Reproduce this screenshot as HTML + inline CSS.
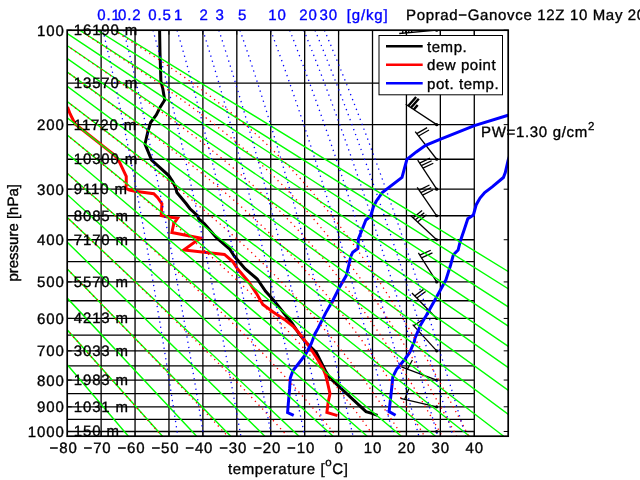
<!DOCTYPE html>
<html><head><meta charset="utf-8"><style>
html,body{margin:0;padding:0;background:#fff;width:640px;height:480px;overflow:hidden}
svg{display:block}
text{font-family:"Liberation Sans",Arial,Helvetica,sans-serif;stroke-width:0.35px;paint-order:stroke;text-rendering:geometricPrecision}
svg{will-change:transform}
</style></head><body>
<svg width="640" height="480" viewBox="0 0 640 480">
<rect width="640" height="480" fill="#fff"/>
<defs><clipPath id="c"><rect x="67.2" y="30.2" width="441" height="406"/></clipPath></defs>
<path d="M101.12 30.2V436.2M135.05 30.2V436.2M168.97 30.2V436.2M202.89 30.2V436.2M236.82 30.2V436.2M270.74 30.2V436.2M304.66 30.2V436.2M338.58 30.2V436.2M372.51 30.2V436.2M406.43 30.2V436.2M440.35 30.2V436.2M474.28 30.2V436.2M67.2 83.16H474.28M67.2 124.63H474.28M67.2 159.23H474.28M67.2 189.19H474.28M67.2 215.76H474.28M67.2 239.74H474.28M67.2 261.67H474.28M67.2 281.92H474.28M67.2 300.77H474.28M67.2 318.43H474.28M67.2 335.08H474.28M67.2 350.83H474.28M67.2 365.79H474.28M67.2 380.06H474.28M67.2 393.71H474.28M67.2 406.79H474.28M67.2 419.37H474.28M67.2 431.48H474.28" stroke="#000" stroke-width="1.3" fill="none"/>
<g clip-path="url(#c)"><g stroke="#000" fill="none"><path d="M436.7 30.2L399.2 33.5" stroke-width="1.3"/><path d="M402.69 33.19L403.28 21.71" stroke-width="1.3"/><path d="M405.67 32.93L406.27 21.45" stroke-width="1.3"/><path d="M408.66 32.67L409.26 21.18" stroke-width="1.3"/><path d="M411.65 32.4L412.25 20.92" stroke-width="1.3"/><path d="M436.7 124.63L405.7 104.33" stroke-width="1.3"/><path d="M408.21 105.97L416.12 96.95" stroke-width="2.4"/><path d="M410.89 107.73L418.79 98.7" stroke-width="2.4"/><path d="M413.73 109.59L417.68 105.08" stroke-width="2.4"/><path d="M436.7 159.23L415.2 131.63" stroke-width="1.3"/><path d="M416.74 133.6L427.14 127.62" stroke-width="1.3"/><path d="M418.58 135.97L428.98 129.98" stroke-width="1.3"/><path d="M436.7 189.19L417.7 160.19" stroke-width="1.3"/><path d="M419.62 163.11L430.02 158.21" stroke-width="1.3"/><path d="M421.26 165.62L431.66 160.72" stroke-width="1.3"/><path d="M422.91 168.13L433.31 163.23" stroke-width="1.3"/><path d="M436.7 215.76L417.2 187.26" stroke-width="1.3"/><path d="M419.18 190.15L429.48 185.04" stroke-width="1.3"/><path d="M420.87 192.62L431.17 187.51" stroke-width="1.3"/><path d="M422.56 195.1L432.87 189.99" stroke-width="1.3"/><path d="M436.7 239.74L410.6 215.44" stroke-width="1.3"/><path d="M413.16 217.83L422.09 210.58" stroke-width="1.3"/><path d="M415.36 219.87L424.29 212.63" stroke-width="1.3"/><path d="M417.55 221.91L426.48 214.67" stroke-width="1.3"/><path d="M436.7 281.92L418.4 252.92" stroke-width="1.3"/><path d="M419.84 255.2L430.78 250.27" stroke-width="1.3"/><path d="M421.5 257.82L432.44 252.9" stroke-width="1.3"/><path d="M436.7 318.43L411.9 293.03" stroke-width="1.3"/><path d="M414.69 295.9L423.56 289.38" stroke-width="1.3"/><path d="M416.79 298.04L425.65 291.53" stroke-width="1.3"/><path d="M436.7 350.83L412.7 324.63" stroke-width="1.3"/><path d="M413.71 325.73L421.96 320.07" stroke-width="1.3"/><path d="M436.7 380.06L401.4 366.96" stroke-width="1.3"/><path d="M407.4 369.19L412.39 359.95" stroke-width="1.3"/><path d="M436.7 406.79L400.4 398.39" stroke-width="1.3"/><path d="M404.69 399.38L408.78 388.74" stroke-width="1.3"/></g><circle cx="436.7" cy="30.2" r="1.6" fill="#000"/><circle cx="436.7" cy="124.63" r="1.6" fill="#000"/><circle cx="436.7" cy="159.23" r="1.6" fill="#000"/><circle cx="436.7" cy="189.19" r="1.6" fill="#000"/><circle cx="436.7" cy="215.76" r="1.6" fill="#000"/><circle cx="436.7" cy="239.74" r="1.6" fill="#000"/><circle cx="436.7" cy="281.92" r="1.6" fill="#000"/><circle cx="436.7" cy="318.43" r="1.6" fill="#000"/><circle cx="436.7" cy="350.83" r="1.6" fill="#000"/><circle cx="436.7" cy="380.06" r="1.6" fill="#000"/><circle cx="436.7" cy="406.79" r="1.6" fill="#000"/><circle cx="436.7" cy="431.48" r="1.6" fill="#000"/><polyline points="159.6,30 160,53.1 160.9,81.25 162.8,88.75 164.7,100 160,107.5 156.25,115 150.6,122.5 147.8,131.9 145,144 151.6,160 161.9,169.4 168.75,175.6 172.5,181.25 175.6,187.5 176.9,192.5 180,196.25 186.25,203.75 190,208.75 197.5,215.6 198.75,218.75 204.4,223.75 216.25,237.5 230,249.4 231.9,252.5 234.4,256.25 245,268.75 257.2,279 265.6,291.25 274,300.6 284.4,313.75 291.9,323 299.4,334.4 305,341.25 311.25,347.5 316.25,352.5 321,362 325.5,371 329.7,377.8 366,411.6 371.9,413.4 377.5,415.3" stroke="#000" stroke-width="3" fill="none" stroke-linejoin="miter"/><polyline points="67.5,106.9 70,113.75 73.75,121.25 75.7,124.4 108.8,150.6 112.75,153.75 116.5,157.3 119.4,161.9 126.25,176.25 126.25,185 125.6,188.1 129.4,190 135,191.25 153.75,193.75 157.5,197.5 161.9,203.75 161.25,215.6 167.5,216.9 177.6,218.1 173.75,223.75 171.9,232.5 200.3,238.1 183.75,250 224.4,254.4 232.5,261.25 237.5,268.75 248.75,281.9 256.25,293.1 262.8,304.4 273.1,311.9 284.4,319.4 293.75,326.9 297.5,331.25 302.5,337.5 308.1,345 313.1,352.5 318.75,361.25 323.1,368.75 325.6,375 327.5,382.5 330,393.75 328.1,402.5 326.9,412.5 337.5,415.6" stroke="#f00" stroke-width="3" fill="none" stroke-linejoin="miter"/><polyline points="293.7,415.3 287.6,412.5 288.3,403.7 289.6,388.9 290.3,378 293,370.6 298.4,363.8 305.2,355 311.25,343.75 315,333.75 318.1,328.1 325.6,313.1 333.1,300 339.7,286.9 346.25,275.6 349,264.4 350.9,256 352.8,252.2 357.9,248.4 358.4,238.75 362.2,229.4 365.9,220 370.6,216.25 373.4,206.9 376.25,201.25 382.3,192.5 402,177.4 406.9,159.4 416.25,151.9 425.6,145.3 440.6,139.1 474.4,125.6 508.1,115.3 530,109" stroke="#00f" stroke-width="3" fill="none" stroke-linejoin="miter"/><polyline points="395.6,415.3 389.1,411.6 391.9,386.25 392.8,376.9 396.6,369.4 405,359 409.7,352.5 414.4,341.25 415,338.1 420.6,325 426.25,315.6 435.6,298.75 445.9,280 450.6,265 453.4,254.7 458.1,250 460.3,241.25 464.1,230 467.8,218.75 473.4,215 476.25,204.7 480,198.1 484.7,192.5 492.2,186.9 503.4,177.5 505.3,172.5 508.1,160.3 515,140" stroke="#00f" stroke-width="3" fill="none" stroke-linejoin="miter"/><path d="M-219.03 30.2L128.4 436.2M-201.46 30.2L162.52 436.2M-183.89 30.2L196.63 436.2M-166.32 30.2L230.75 436.2M-148.75 30.2L264.86 436.2M-131.18 30.2L298.98 436.2M-113.61 30.2L333.1 436.2M-96.04 30.2L367.21 436.2M-78.47 30.2L401.33 436.2M-60.9 30.2L435.44 436.2M-43.32 30.2L469.56 436.2M-25.75 30.2L503.67 436.2M-8.18 30.2L537.79 436.2M9.39 30.2L571.9 436.2M26.96 30.2L606.02 436.2M44.53 30.2L640.14 436.2M62.1 30.2L674.25 436.2M79.67 30.2L708.37 436.2M97.24 30.2L742.48 436.2M114.81 30.2L776.6 436.2" stroke="#00ff00" stroke-width="1.4" fill="none"/><path d="M-163.63 72.4L-157 79.8L-150.62 86.92L-144.46 93.79L-138.5 100.43L-132.74 106.86L-127.16 113.09L-121.73 119.13L-116.47 125.01L-111.34 130.73L-106.35 136.29L-101.49 141.72L-96.74 147.01L-92.11 152.18L-87.58 157.23L-83.15 162.17L-78.82 167L-74.58 171.74L-70.42 176.37L-66.34 180.92L-62.35 185.38L-58.42 189.75L-54.57 194.05L-50.79 198.27L-47.07 202.41L-43.42 206.49L-39.83 210.5L-36.29 214.44L-32.81 218.33L-29.38 222.15L-26.01 225.91L-22.68 229.62L-19.41 233.28L-16.18 236.88L-12.99 240.43L-9.85 243.94L-6.75 247.39L-3.69 250.81L-0.67 254.17L2.31 257.5L5.25 260.78L8.16 264.03L11.03 267.23L13.87 270.4L16.68 273.53L19.45 276.62L22.19 279.68L24.9 282.71L27.58 285.7L30.23 288.66L32.86 291.58L35.46 294.48L38.03 297.35L40.57 300.19L43.09 303L45.58 305.78L48.05 308.54L50.49 311.26L52.91 313.97L55.31 316.64L57.69 319.3L60.04 321.93L62.38 324.53L64.69 327.11L66.98 329.67L69.25 332.21L71.5 334.72L73.73 337.22L75.95 339.69L78.14 342.14L80.32 344.57L82.48 346.99L84.62 349.38L86.75 351.75L88.85 354.11L90.94 356.45L93.02 358.77L95.08 361.07L97.12 363.35L99.15 365.62L101.16 367.87L103.16 370.11L105.14 372.33L107.11 374.53L109.06 376.72L111 378.89L112.93 381.04L114.84 383.19L116.74 385.31L118.63 387.43L120.5 389.53L122.36 391.61L124.21 393.69L126.04 395.74L127.86 397.79L129.68 399.82L131.48 401.84L133.26 403.85L135.04 405.84L136.8 407.82L138.56 409.79L140.3 411.75L142.03 413.7L143.75 415.63L145.46 417.56L147.16 419.47L148.85 421.37L150.52 423.26L152.19 425.14L153.85 427.01L155.5 428.87L157.14 430.72L158.77 432.55L160.39 434.38L161.99 436.2M-166.32 30.2L-157.25 39.47L-148.64 48.28L-140.43 56.68L-132.58 64.7L-125.05 72.4L-117.82 79.8L-110.85 86.92L-104.13 93.79L-97.64 100.43L-91.35 106.86L-85.26 113.09L-79.34 119.13L-73.6 125.01L-68.01 130.73L-62.56 136.29L-57.26 141.72L-52.08 147.01L-47.02 152.18L-42.08 157.23L-37.25 162.17L-32.53 167L-27.9 171.74L-23.36 176.37L-18.92 180.92L-14.56 185.38L-10.28 189.75L-6.08 194.05L-1.95 198.27L2.1 202.41L6.09 206.49L10.01 210.5L13.86 214.44L17.66 218.33L21.4 222.15L25.08 225.91L28.7 229.62L32.27 233.28L35.8 236.88L39.27 240.43L42.69 243.94L46.07 247.39L49.41 250.81L52.7 254.17L55.95 257.5L59.15 260.78L62.32 264.03L65.45 267.23L68.54 270.4L71.6 273.53L74.62 276.62L77.61 279.68L80.56 282.71L83.48 285.7L86.36 288.66L89.22 291.58L92.04 294.48L94.84 297.35L97.6 300.19L100.34 303L103.05 305.78L105.73 308.54L108.39 311.26L111.02 313.97L113.62 316.64L116.2 319.3L118.76 321.93L121.29 324.53L123.8 327.11L126.28 329.67L128.74 332.21L131.18 334.72L133.6 337.22L135.99 339.69L138.37 342.14L140.72 344.57L143.06 346.99L145.37 349.38L147.66 351.75L149.94 354.11L152.19 356.45L154.43 358.77L156.65 361.07L158.85 363.35L161.03 365.62L163.19 367.87L165.34 370.11L167.47 372.33L169.58 374.53L171.68 376.72L173.76 378.89L175.82 381.04L177.87 383.19L179.9 385.31L181.92 387.43L183.92 389.53L185.9 391.61L187.87 393.69L189.83 395.74L191.77 397.79L193.7 399.82L195.61 401.84L197.5 403.85L199.39 405.84L201.26 407.82L203.11 409.79L204.96 411.75L206.79 413.7L208.6 415.63L210.41 417.56L212.2 419.47L213.97 421.37L215.74 423.26L217.49 425.14L219.23 427.01L220.96 428.87L222.67 430.72L224.38 432.55L226.07 434.38L227.75 436.2M-131.18 30.2L-121.36 39.47L-112.02 48.28L-103.13 56.68L-94.62 64.7L-86.47 72.4L-78.63 79.8L-71.09 86.92L-63.81 93.79L-56.77 100.43L-49.96 106.86L-43.36 113.09L-36.96 119.13L-30.73 125.01L-24.67 130.73L-18.78 136.29L-13.03 141.72L-7.42 147.01L-1.94 152.18L3.41 157.23L8.64 162.17L13.76 167L18.77 171.74L23.68 176.37L28.49 180.92L33.21 185.38L37.84 189.75L42.39 194.05L46.86 198.27L51.25 202.41L55.56 206.49L59.8 210.5L63.97 214.44L68.08 218.33L72.12 222.15L76.1 225.91L80.01 229.62L83.87 233.28L87.68 236.88L91.43 240.43L95.12 243.94L98.77 247.39L102.37 250.81L105.91 254.17L109.41 257.5L112.87 260.78L116.28 264.03L119.65 267.23L122.97 270.4L126.25 273.53L129.5 276.62L132.7 279.68L135.87 282.71L139 285.7L142.09 288.66L145.14 291.58L148.16 294.48L151.15 297.35L154.1 300.19L157.02 303L159.91 305.78L162.76 308.54L165.59 311.26L168.38 313.97L171.14 316.64L173.88 319.3L176.58 321.93L179.26 324.53L181.9 327.11L184.52 329.67L187.11 332.21L189.68 334.72L192.22 337.22L194.73 339.69L197.22 342.14L199.68 344.57L202.12 346.99L204.53 349.38L206.92 351.75L209.28 354.11L211.62 356.45L213.94 358.77L216.23 361.07L218.51 363.35L220.76 365.62L222.98 367.87L225.19 370.11L227.37 372.33L229.54 374.53L231.68 376.72L233.8 378.89L235.9 381.04L237.98 383.19L240.04 385.31L242.08 387.43L244.11 389.53L246.11 391.61L248.09 393.69L250.06 395.74L252 397.79L253.93 399.82L255.84 401.84L257.74 403.85L259.61 405.84L261.47 407.82L263.31 409.79L265.13 411.75L266.94 413.7L268.73 415.63L270.51 417.56L272.26 419.47L274.01 421.37L275.73 423.26L277.44 425.14L279.14 427.01L280.82 428.87L282.49 430.72L284.14 432.55L285.77 434.38L287.4 436.2M-96.04 30.2L-85.46 39.47L-75.41 48.28L-65.83 56.68L-56.67 64.7L-47.89 72.4L-39.45 79.8L-31.32 86.92L-23.48 93.79L-15.91 100.43L-8.58 106.86L-1.47 113.09L5.43 119.13L12.13 125.01L18.65 130.73L25 136.29L31.18 141.72L37.22 147.01L43.11 152.18L48.86 157.23L54.49 162.17L59.99 167L65.38 171.74L70.66 176.37L75.83 180.92L80.89 185.38L85.86 189.75L90.74 194.05L95.53 198.27L100.23 202.41L104.85 206.49L109.38 210.5L113.84 214.44L118.23 218.33L122.54 222.15L126.78 225.91L130.95 229.62L135.06 233.28L139.1 236.88L143.08 240.43L147 243.94L150.86 247.39L154.66 250.81L158.41 254.17L162.1 257.5L165.73 260.78L169.32 264.03L172.85 267.23L176.33 270.4L179.76 273.53L183.14 276.62L186.47 279.68L189.76 282.71L193 285.7L196.2 288.66L199.35 291.58L202.46 294.48L205.53 297.35L208.56 300.19L211.54 303L214.48 305.78L217.39 308.54L220.25 311.26L223.08 313.97L225.87 316.64L228.62 319.3L231.34 321.93L234.02 324.53L236.66 327.11L239.27 329.67L241.85 332.21L244.39 334.72L246.9 337.22L249.38 339.69L251.82 342.14L254.24 344.57L256.62 346.99L258.98 349.38L261.3 351.75L263.59 354.11L265.86 356.45L268.1 358.77L270.31 361.07L272.49 363.35L274.65 365.62L276.78 367.87L278.88 370.11L280.96 372.33L283.01 374.53L285.04 376.72L287.04 378.89L289.03 381.04L290.98 383.19L292.92 385.31L294.83 387.43L296.72 389.53L298.59 391.61L300.43 393.69L302.26 395.74L304.07 397.79L305.85 399.82L307.62 401.84L309.36 403.85L311.09 405.84L312.8 407.82L314.49 409.79L316.16 411.75L317.81 413.7L319.45 415.63L321.06 417.56L322.67 419.47L324.25 421.37L325.82 423.26L327.37 425.14L328.91 427.01L330.43 428.87L331.93 430.72L333.43 432.55L334.9 434.38L336.36 436.2M-60.9 30.2L-49.56 39.47L-38.79 48.28L-28.53 56.68L-18.72 64.7L-9.31 72.4L-0.27 79.8L8.43 86.92L16.83 93.79L24.94 100.43L32.79 106.86L40.39 113.09L47.77 119.13L54.94 125.01L61.91 130.73L68.69 136.29L75.3 141.72L81.74 147.01L88.02 152.18L94.16 157.23L100.15 162.17L106 167L111.72 171.74L117.32 176.37L122.8 180.92L128.16 185.38L133.41 189.75L138.55 194.05L143.59 198.27L148.53 202.41L153.37 206.49L158.12 210.5L162.77 214.44L167.34 218.33L171.81 222.15L176.2 225.91L180.51 229.62L184.74 233.28L188.89 236.88L192.96 240.43L196.96 243.94L200.89 247.39L204.74 250.81L208.52 254.17L212.24 257.5L215.88 260.78L219.46 264.03L222.98 267.23L226.43 270.4L229.83 273.53L233.16 276.62L236.43 279.68L239.65 282.71L242.81 285.7L245.92 288.66L248.97 291.58L251.97 294.48L254.92 297.35L257.82 300.19L260.67 303L263.47 305.78L266.23 308.54L268.94 311.26L271.6 313.97L274.23 316.64L276.81 319.3L279.34 321.93L281.84 324.53L284.3 327.11L286.72 329.67L289.11 332.21L291.45 334.72L293.76 337.22L296.04 339.69L298.28 342.14L300.49 344.57L302.66 346.99L304.81 349.38L306.92 351.75L309 354.11L311.05 356.45L313.08 358.77L315.08 361.07L317.04 363.35L318.99 365.62L320.9 367.87L322.79 370.11L324.65 372.33L326.49 374.53L328.31 376.72L330.1 378.89L331.87 381.04L333.62 383.19L335.35 385.31L337.05 387.43L338.73 389.53L340.4 391.61L342.04 393.69L343.66 395.74L345.27 397.79L346.85 399.82L348.42 401.84L349.97 403.85L351.5 405.84L353.02 407.82L354.52 409.79L356 411.75L357.46 413.7L358.91 415.63L360.35 417.56L361.76 419.47L363.17 421.37L364.56 423.26L365.93 425.14L367.29 427.01L368.64 428.87L369.98 430.72L371.3 432.55L372.6 434.38L373.9 436.2M-25.76 30.2L-13.67 39.47L-2.19 48.28L8.76 56.68L19.22 64.7L29.24 72.4L38.87 79.8L48.14 86.92L57.07 93.79L65.7 100.43L74.04 106.86L82.12 113.09L89.95 119.13L97.54 125.01L104.91 130.73L112.07 136.29L119.04 141.72L125.81 147.01L132.4 152.18L138.82 157.23L145.07 162.17L151.16 167L157.1 171.74L162.88 176.37L168.53 180.92L174.03 185.38L179.4 189.75L184.63 194.05L189.74 198.27L194.72 202.41L199.59 206.49L204.33 210.5L208.96 214.44L213.49 218.33L217.9 222.15L222.21 225.91L226.42 229.62L230.53 233.28L234.55 236.88L238.47 240.43L242.31 243.94L246.06 247.39L249.72 250.81L253.3 254.17L256.8 257.5L260.23 260.78L263.58 264.03L266.86 267.23L270.06 270.4L273.2 273.53L276.28 276.62L279.29 279.68L282.24 282.71L285.13 285.7L287.97 288.66L290.74 291.58L293.47 294.48L296.14 297.35L298.76 300.19L301.33 303L303.86 305.78L306.33 308.54L308.77 311.26L311.16 313.97L313.51 316.64L315.81 319.3L318.08 321.93L320.31 324.53L322.5 327.11L324.66 329.67L326.78 332.21L328.87 334.72L330.92 337.22L332.95 339.69L334.94 342.14L336.9 344.57L338.83 346.99L340.73 349.38L342.61 351.75L344.46 354.11L346.28 356.45L348.08 358.77L349.85 361.07L351.6 363.35L353.32 365.62L355.02 367.87L356.7 370.11L358.35 372.33L359.99 374.53L361.6 376.72L363.2 378.89L364.77 381.04L366.33 383.19L367.86 385.31L369.38 387.43L370.88 389.53L372.36 391.61L373.83 393.69L375.28 395.74L376.71 397.79L378.12 399.82L379.52 401.84L380.91 403.85L382.28 405.84L383.63 407.82L384.97 409.79L386.3 411.75L387.62 413.7L388.91 415.63L390.2 417.56L391.47 419.47L392.74 421.37L393.98 423.26L395.22 425.14L396.45 427.01L397.66 428.87L398.86 430.72L400.05 432.55L401.23 434.38L402.4 436.2M9.37 30.2L22.2 39.47L34.39 48.28L46 56.68L57.08 64.7L67.7 72.4L77.88 79.8L87.66 86.92L97.08 93.79L106.15 100.43L114.9 106.86L123.35 113.09L131.51 119.13L139.4 125.01L147.02 130.73L154.4 136.29L161.54 141.72L168.45 147.01L175.14 152.18L181.62 157.23L187.89 162.17L193.97 167L199.86 171.74L205.56 176.37L211.09 180.92L216.45 185.38L221.64 189.75L226.68 194.05L231.57 198.27L236.31 202.41L240.91 206.49L245.38 210.5L249.71 214.44L253.93 218.33L258.02 222.15L262.01 225.91L265.88 229.62L269.65 233.28L273.32 236.88L276.89 240.43L280.37 243.94L283.76 247.39L287.07 250.81L290.3 254.17L293.45 257.5L296.52 260.78L299.52 264.03L302.46 267.23L305.32 270.4L308.13 273.53L310.87 276.62L313.56 279.68L316.18 282.71L318.76 285.7L321.28 288.66L323.75 291.58L326.17 294.48L328.55 297.35L330.88 300.19L333.17 303L335.41 305.78L337.62 308.54L339.78 311.26L341.91 313.97L344 316.64L346.06 319.3L348.08 321.93L350.07 324.53L352.03 327.11L353.95 329.67L355.85 332.21L357.72 334.72L359.55 337.22L361.36 339.69L363.15 342.14L364.91 344.57L366.64 346.99L368.35 349.38L370.03 351.75L371.7 354.11L373.34 356.45L374.95 358.77L376.55 361.07L378.13 363.35L379.68 365.62L381.22 367.87L382.73 370.11L384.23 372.33L385.71 374.53L387.18 376.72L388.62 378.89L390.05 381.04L391.46 383.19L392.86 385.31L394.24 387.43L395.6 389.53L396.95 391.61L398.28 393.69L399.61 395.74L400.91 397.79L402.2 399.82L403.48 401.84L404.75 403.85L406 405.84L407.24 407.82L408.47 409.79L409.69 411.75L410.89 413.7L412.09 415.63L413.27 417.56L414.44 419.47L415.6 421.37L416.75 423.26L417.89 425.14L419.02 427.01L420.13 428.87L421.24 430.72L422.34 432.55L423.43 434.38L424.51 436.2M44.44 30.2L57.99 39.47L70.83 48.28L83.04 56.68L94.68 64.7L105.79 72.4L116.4 79.8L126.56 86.92L136.29 93.79L145.62 100.43L154.56 106.86L163.14 113.09L171.37 119.13L179.26 125.01L186.84 130.73L194.11 136.29L201.1 141.72L207.81 147.01L214.25 152.18L220.45 157.23L226.41 162.17L232.14 167L237.65 171.74L242.97 176.37L248.09 180.92L253.02 185.38L257.78 189.75L262.38 194.05L266.83 198.27L271.12 202.41L275.28 206.49L279.3 210.5L283.2 214.44L286.98 218.33L290.65 222.15L294.21 225.91L297.68 229.62L301.04 233.28L304.31 236.88L307.5 240.43L310.6 243.94L313.63 247.39L316.57 250.81L319.45 254.17L322.26 257.5L325 260.78L327.68 264.03L330.3 267.23L332.86 270.4L335.37 273.53L337.83 276.62L340.23 279.68L342.59 282.71L344.9 285.7L347.16 288.66L349.38 291.58L351.56 294.48L353.7 297.35L355.8 300.19L357.87 303L359.89 305.78L361.89 308.54L363.85 311.26L365.78 313.97L367.67 316.64L369.54 319.3L371.37 321.93L373.18 324.53L374.96 327.11L376.72 329.67L378.45 332.21L380.15 334.72L381.83 337.22L383.49 339.69L385.12 342.14L386.73 344.57L388.32 346.99L389.89 349.38L391.44 351.75L392.96 354.11L394.47 356.45L395.96 358.77L397.43 361.07L398.89 363.35L400.32 365.62L401.74 367.87L403.14 370.11L404.53 372.33L405.9 374.53L407.25 376.72L408.59 378.89L409.92 381.04L411.23 383.19L412.53 385.31L413.81 387.43L415.08 389.53L416.33 391.61L417.58 393.69L418.81 395.74L420.03 397.79L421.23 399.82L422.43 401.84L423.61 403.85L424.78 405.84L425.94 407.82L427.09 409.79L428.23 411.75L429.36 413.7L430.48 415.63L431.59 417.56L432.69 419.47L433.78 421.37L434.86 423.26L435.93 425.14L436.99 427.01L438.04 428.87L439.08 430.72L440.12 432.55L441.14 434.38L442.16 436.2M79.32 30.2L93.48 39.47L106.86 48.28L119.51 56.68L131.49 64.7L142.85 72.4L153.62 79.8L163.84 86.92L173.54 93.79L182.75 100.43L191.49 106.86L199.8 113.09L207.69 119.13L215.2 125.01L222.34 130.73L229.15 136.29L235.63 141.72L241.82 147.01L247.73 152.18L253.38 157.23L258.78 162.17L263.97 167L268.94 171.74L273.72 176.37L278.31 180.92L282.73 185.38L286.99 189.75L291.11 194.05L295.08 198.27L298.91 202.41L302.63 206.49L306.22 210.5L309.71 214.44L313.09 218.33L316.38 222.15L319.57 225.91L322.67 229.62L325.69 233.28L328.63 236.88L331.5 240.43L334.29 243.94L337.02 247.39L339.68 250.81L342.28 254.17L344.82 257.5L347.31 260.78L349.74 264.03L352.12 267.23L354.45 270.4L356.74 273.53L358.98 276.62L361.17 279.68L363.32 282.71L365.44 285.7L367.51 288.66L369.55 291.58L371.55 294.48L373.52 297.35L375.45 300.19L377.35 303L379.23 305.78L381.07 308.54L382.88 311.26L384.66 313.97L386.42 316.64L388.15 319.3L389.85 321.93L391.53 324.53L393.19 327.11L394.82 329.67L396.43 332.21L398.02 334.72L399.58 337.22L401.13 339.69L402.65 342.14L404.16 344.57L405.65 346.99L407.12 349.38L408.57 351.75L410 354.11L411.41 356.45L412.81 358.77L414.19 361.07L415.56 363.35L416.91 365.62L418.25 367.87L419.57 370.11L420.87 372.33L422.17 374.53L423.45 376.72L424.71 378.89L425.96 381.04L427.2 383.19L428.43 385.31L429.64 387.43L430.84 389.53L432.03 391.61L433.21 393.69L434.38 395.74L435.54 397.79L436.68 399.82L437.82 401.84L438.94 403.85L440.05 405.84L441.16 407.82L442.25 409.79L443.34 411.75L444.41 413.7L445.48 415.63L446.53 417.56L447.58 419.47L448.62 421.37L449.65 423.26L450.67 425.14L451.68 427.01L452.69 428.87L453.69 430.72L454.68 432.55L455.66 434.38L456.63 436.2M113.63 30.2L128.16 39.47L141.76 48.28L154.49 56.68L166.41 64.7L177.58 72.4L188.05 79.8L197.87 86.92L207.08 93.79L215.74 100.43L223.88 106.86L231.55 113.09L238.79 119.13L245.63 125.01L252.1 130.73L258.24 136.29L264.08 141.72L269.64 147.01L274.94 152.18L280 157.23L284.84 162.17L289.48 167L293.93 171.74L298.21 176.37L302.33 180.92L306.3 185.38L310.13 189.75L313.84 194.05L317.41 198.27L320.88 202.41L324.23 206.49L327.49 210.5L330.65 214.44L333.72 218.33L336.71 222.15L339.62 225.91L342.45 229.62L345.21 233.28L347.9 236.88L350.53 240.43L353.1 243.94L355.61 247.39L358.06 250.81L360.45 254.17L362.8 257.5L365.1 260.78L367.35 264.03L369.56 267.23L371.72 270.4L373.84 273.53L375.92 276.62L377.97 279.68L379.98 282.71L381.95 285.7L383.89 288.66L385.79 291.58L387.67 294.48L389.51 297.35L391.32 300.19L393.11 303L394.86 305.78L396.59 308.54L398.3 311.26L399.98 313.97L401.63 316.64L403.27 319.3L404.88 321.93L406.46 324.53L408.03 327.11L409.57 329.67L411.1 332.21L412.6 334.72L414.09 337.22L415.55 339.69L417 342.14L418.43 344.57L419.84 346.99L421.24 349.38L422.62 351.75L423.98 354.11L425.33 356.45L426.67 358.77L427.98 361.07L429.29 363.35L430.58 365.62L431.85 367.87L433.11 370.11L434.36 372.33L435.6 374.53L436.82 376.72L438.03 378.89L439.23 381.04L440.42 383.19L441.6 385.31L442.76 387.43L443.91 389.53L445.06 391.61L446.19 393.69L447.31 395.74L448.42 397.79L449.52 399.82L450.61 401.84L451.69 403.85L452.76 405.84L453.83 407.82L454.88 409.79L455.92 411.75L456.96 413.7L457.99 415.63L459 417.56L460.01 419.47L461.02 421.37L462.01 423.26L463 425.14L463.97 427.01L464.94 428.87L465.91 430.72L466.86 432.55L467.81 434.38L468.75 436.2" stroke="#ff0000" stroke-width="1.3" stroke-dasharray="1.3 4" fill="none"/><path d="M102.94 30.2L105.09 39.47L107.11 48.28L109.02 56.68L110.81 64.7L112.51 72.4L114.13 79.8L115.67 86.92L117.15 93.79L118.56 100.43L119.91 106.86L121.21 113.09L122.46 119.13L123.67 125.01L124.84 130.73L125.96 136.29L127.06 141.72L128.11 147.01L129.14 152.18L130.14 157.23L131.11 162.17L132.05 167L132.97 171.74L133.86 176.37L134.73 180.92L135.58 185.38L136.41 189.75L137.22 194.05L138.02 198.27L138.79 202.41L139.55 206.49L140.3 210.5L141.02 214.44L141.74 218.33L142.44 222.15L143.13 225.91L143.8 229.62L144.46 233.28L145.11 236.88L145.75 240.43L146.38 243.94L146.99 247.39L147.6 250.81L148.19 254.17L148.78 257.5L149.36 260.78L149.93 264.03L150.49 267.23L151.04 270.4L151.58 273.53L152.12 276.62L152.65 279.68L153.17 282.71L153.68 285.7L154.19 288.66L154.69 291.58L155.18 294.48L155.67 297.35L156.15 300.19L156.62 303L157.09 305.78L157.55 308.54L158.01 311.26L158.46 313.97L158.91 316.64L159.35 319.3L159.78 321.93L160.21 324.53L160.64 327.11L161.06 329.67L161.48 332.21L161.89 334.72L162.3 337.22L162.7 339.69L163.1 342.14L163.5 344.57L163.89 346.99L164.28 349.38L164.66 351.75L165.04 354.11L165.41 356.45L165.79 358.77L166.16 361.07L166.52 363.35L166.88 365.62L167.24 367.87L167.6 370.11L167.95 372.33L168.3 374.53L168.64 376.72L168.99 378.89L169.33 381.04L169.66 383.19L170 385.31L170.33 387.43L170.66 389.53L170.98 391.61L171.3 393.69L171.62 395.74L171.94 397.79L172.26 399.82L172.57 401.84L172.88 403.85L173.19 405.84L173.49 407.82L173.8 409.79L174.1 411.75L174.39 413.7L174.69 415.63L174.98 417.56L175.28 419.47L175.57 421.37L175.85 423.26L176.14 425.14L176.42 427.01L176.7 428.87L176.98 430.72L177.26 432.55L177.54 434.38L177.81 436.2M123.59 30.2L125.89 39.47L128.05 48.28L130.07 56.68L131.99 64.7L133.8 72.4L135.53 79.8L137.17 86.92L138.74 93.79L140.25 100.43L141.69 106.86L143.08 113.09L144.42 119.13L145.71 125.01L146.95 130.73L148.16 136.29L149.32 141.72L150.45 147.01L151.55 152.18L152.61 157.23L153.65 162.17L154.65 167L155.63 171.74L156.59 176.37L157.52 180.92L158.43 185.38L159.32 189.75L160.19 194.05L161.03 198.27L161.86 202.41L162.68 206.49L163.47 210.5L164.25 214.44L165.01 218.33L165.76 222.15L166.5 225.91L167.22 229.62L167.93 233.28L168.62 236.88L169.3 240.43L169.97 243.94L170.63 247.39L171.28 250.81L171.92 254.17L172.55 257.5L173.17 260.78L173.78 264.03L174.38 267.23L174.97 270.4L175.55 273.53L176.12 276.62L176.69 279.68L177.24 282.71L177.79 285.7L178.34 288.66L178.87 291.58L179.4 294.48L179.92 297.35L180.43 300.19L180.94 303L181.44 305.78L181.94 308.54L182.43 311.26L182.91 313.97L183.39 316.64L183.86 319.3L184.33 321.93L184.79 324.53L185.25 327.11L185.7 329.67L186.15 332.21L186.59 334.72L187.03 337.22L187.46 339.69L187.89 342.14L188.31 344.57L188.73 346.99L189.15 349.38L189.56 351.75L189.96 354.11L190.37 356.45L190.77 358.77L191.16 361.07L191.55 363.35L191.94 365.62L192.32 367.87L192.71 370.11L193.08 372.33L193.46 374.53L193.83 376.72L194.2 378.89L194.56 381.04L194.92 383.19L195.28 385.31L195.63 387.43L195.99 389.53L196.34 391.61L196.68 393.69L197.03 395.74L197.37 397.79L197.7 399.82L198.04 401.84L198.37 403.85L198.7 405.84L199.03 407.82L199.36 409.79L199.68 411.75L200 413.7L200.32 415.63L200.63 417.56L200.94 419.47L201.26 421.37L201.56 423.26L201.87 425.14L202.18 427.01L202.48 428.87L202.78 430.72L203.08 432.55L203.37 434.38L203.67 436.2M153.03 30.2L155.54 39.47L157.89 48.28L160.1 56.68L162.19 64.7L164.17 72.4L166.06 79.8L167.86 86.92L169.57 93.79L171.22 100.43L172.8 106.86L174.32 113.09L175.78 119.13L177.19 125.01L178.55 130.73L179.87 136.29L181.15 141.72L182.38 147.01L183.58 152.18L184.75 157.23L185.88 162.17L186.98 167L188.06 171.74L189.1 176.37L190.13 180.92L191.12 185.38L192.1 189.75L193.05 194.05L193.98 198.27L194.89 202.41L195.78 206.49L196.65 210.5L197.5 214.44L198.34 218.33L199.16 222.15L199.97 225.91L200.76 229.62L201.53 233.28L202.3 236.88L203.05 240.43L203.78 243.94L204.51 247.39L205.22 250.81L205.92 254.17L206.61 257.5L207.29 260.78L207.96 264.03L208.62 267.23L209.26 270.4L209.9 273.53L210.53 276.62L211.15 279.68L211.77 282.71L212.37 285.7L212.97 288.66L213.55 291.58L214.13 294.48L214.71 297.35L215.27 300.19L215.83 303L216.38 305.78L216.93 308.54L217.47 311.26L218 313.97L218.52 316.64L219.04 319.3L219.56 321.93L220.06 324.53L220.57 327.11L221.06 329.67L221.55 332.21L222.04 334.72L222.52 337.22L223 339.69L223.47 342.14L223.93 344.57L224.4 346.99L224.85 349.38L225.31 351.75L225.75 354.11L226.2 356.45L226.64 358.77L227.07 361.07L227.5 363.35L227.93 365.62L228.35 367.87L228.77 370.11L229.19 372.33L229.6 374.53L230.01 376.72L230.41 378.89L230.81 381.04L231.21 383.19L231.61 385.31L232 387.43L232.39 389.53L232.77 391.61L233.15 393.69L233.53 395.74L233.91 397.79L234.28 399.82L234.65 401.84L235.01 403.85L235.38 405.84L235.74 407.82L236.1 409.79L236.45 411.75L236.81 413.7L237.16 415.63L237.5 417.56L237.85 419.47L238.19 421.37L238.53 423.26L238.87 425.14L239.21 427.01L239.54 428.87L239.87 430.72L240.2 432.55L240.52 434.38L240.85 436.2M177.1 30.2L179.78 39.47L182.3 48.28L184.67 56.68L186.91 64.7L189.04 72.4L191.06 79.8L192.98 86.92L194.83 93.79L196.59 100.43L198.29 106.86L199.91 113.09L201.48 119.13L203 125.01L204.46 130.73L205.87 136.29L207.24 141.72L208.57 147.01L209.86 152.18L211.11 157.23L212.33 162.17L213.52 167L214.67 171.74L215.8 176.37L216.89 180.92L217.96 185.38L219.01 189.75L220.03 194.05L221.03 198.27L222.01 202.41L222.97 206.49L223.9 210.5L224.82 214.44L225.72 218.33L226.61 222.15L227.47 225.91L228.33 229.62L229.16 233.28L229.98 236.88L230.79 240.43L231.58 243.94L232.36 247.39L233.13 250.81L233.88 254.17L234.62 257.5L235.35 260.78L236.07 264.03L236.78 267.23L237.48 270.4L238.17 273.53L238.85 276.62L239.52 279.68L240.18 282.71L240.83 285.7L241.47 288.66L242.1 291.58L242.73 294.48L243.34 297.35L243.95 300.19L244.56 303L245.15 305.78L245.74 308.54L246.32 311.26L246.89 313.97L247.46 316.64L248.02 319.3L248.57 321.93L249.12 324.53L249.66 327.11L250.19 329.67L250.72 332.21L251.25 334.72L251.77 337.22L252.28 339.69L252.79 342.14L253.29 344.57L253.79 346.99L254.28 349.38L254.77 351.75L255.25 354.11L255.73 356.45L256.2 358.77L256.67 361.07L257.14 363.35L257.6 365.62L258.06 367.87L258.51 370.11L258.96 372.33L259.4 374.53L259.84 376.72L260.28 378.89L260.71 381.04L261.14 383.19L261.57 385.31L261.99 387.43L262.41 389.53L262.82 391.61L263.24 393.69L263.64 395.74L264.05 397.79L264.45 399.82L264.85 401.84L265.25 403.85L265.64 405.84L266.03 407.82L266.42 409.79L266.8 411.75L267.18 413.7L267.56 415.63L267.93 417.56L268.31 419.47L268.68 421.37L269.04 423.26L269.41 425.14L269.77 427.01L270.13 428.87L270.49 430.72L270.84 432.55L271.2 434.38L271.55 436.2M202.9 30.2L205.78 39.47L208.49 48.28L211.03 56.68L213.44 64.7L215.72 72.4L217.89 79.8L219.97 86.92L221.95 93.79L223.84 100.43L225.67 106.86L227.42 113.09L229.11 119.13L230.74 125.01L232.31 130.73L233.83 136.29L235.31 141.72L236.74 147.01L238.12 152.18L239.47 157.23L240.78 162.17L242.06 167L243.3 171.74L244.52 176.37L245.7 180.92L246.85 185.38L247.98 189.75L249.08 194.05L250.16 198.27L251.21 202.41L252.25 206.49L253.26 210.5L254.25 214.44L255.22 218.33L256.17 222.15L257.11 225.91L258.03 229.62L258.93 233.28L259.81 236.88L260.68 240.43L261.54 243.94L262.38 247.39L263.21 250.81L264.02 254.17L264.82 257.5L265.61 260.78L266.39 264.03L267.16 267.23L267.91 270.4L268.65 273.53L269.39 276.62L270.11 279.68L270.82 282.71L271.52 285.7L272.22 288.66L272.9 291.58L273.58 294.48L274.24 297.35L274.9 300.19L275.55 303L276.19 305.78L276.83 308.54L277.46 311.26L278.08 313.97L278.69 316.64L279.29 319.3L279.89 321.93L280.48 324.53L281.07 327.11L281.65 329.67L282.22 332.21L282.79 334.72L283.35 337.22L283.9 339.69L284.45 342.14L285 344.57L285.54 346.99L286.07 349.38L286.6 351.75L287.12 354.11L287.64 356.45L288.15 358.77L288.66 361.07L289.16 363.35L289.66 365.62L290.15 367.87L290.64 370.11L291.13 372.33L291.61 374.53L292.09 376.72L292.56 378.89L293.03 381.04L293.49 383.19L293.95 385.31L294.41 387.43L294.86 389.53L295.31 391.61L295.76 393.69L296.2 395.74L296.64 397.79L297.07 399.82L297.51 401.84L297.94 403.85L298.36 405.84L298.78 407.82L299.2 409.79L299.62 411.75L300.03 413.7L300.44 415.63L300.85 417.56L301.25 419.47L301.65 421.37L302.05 423.26L302.45 425.14L302.84 427.01L303.23 428.87L303.61 430.72L304 432.55L304.38 434.38L304.76 436.2M218.87 30.2L221.88 39.47L224.7 48.28L227.36 56.68L229.88 64.7L232.26 72.4L234.53 79.8L236.69 86.92L238.76 93.79L240.74 100.43L242.65 106.86L244.48 113.09L246.24 119.13L247.94 125.01L249.59 130.73L251.18 136.29L252.72 141.72L254.22 147.01L255.67 152.18L257.08 157.23L258.45 162.17L259.79 167L261.09 171.74L262.35 176.37L263.59 180.92L264.8 185.38L265.98 189.75L267.13 194.05L268.26 198.27L269.36 202.41L270.44 206.49L271.5 210.5L272.54 214.44L273.55 218.33L274.55 222.15L275.53 225.91L276.49 229.62L277.44 233.28L278.36 236.88L279.27 240.43L280.17 243.94L281.05 247.39L281.92 250.81L282.77 254.17L283.61 257.5L284.44 260.78L285.25 264.03L286.05 267.23L286.84 270.4L287.62 273.53L288.39 276.62L289.14 279.68L289.89 282.71L290.63 285.7L291.35 288.66L292.07 291.58L292.78 294.48L293.48 297.35L294.17 300.19L294.85 303L295.52 305.78L296.19 308.54L296.84 311.26L297.49 313.97L298.13 316.64L298.77 319.3L299.4 321.93L300.02 324.53L300.63 327.11L301.24 329.67L301.84 332.21L302.43 334.72L303.02 337.22L303.6 339.69L304.18 342.14L304.75 344.57L305.31 346.99L305.87 349.38L306.42 351.75L306.97 354.11L307.52 356.45L308.05 358.77L308.59 361.07L309.11 363.35L309.64 365.62L310.15 367.87L310.67 370.11L311.18 372.33L311.68 374.53L312.18 376.72L312.68 378.89L313.17 381.04L313.66 383.19L314.14 385.31L314.62 387.43L315.1 389.53L315.57 391.61L316.03 393.69L316.5 395.74L316.96 397.79L317.42 399.82L317.87 401.84L318.32 403.85L318.77 405.84L319.21 407.82L319.65 409.79L320.08 411.75L320.52 413.7L320.95 415.63L321.37 417.56L321.8 419.47L322.22 421.37L322.64 423.26L323.05 425.14L323.46 427.01L323.87 428.87L324.28 430.72L324.68 432.55L325.08 434.38L325.48 436.2M240 30.2L243.18 39.47L246.17 48.28L248.98 56.68L251.63 64.7L254.15 72.4L256.55 79.8L258.84 86.92L261.03 93.79L263.13 100.43L265.14 106.86L267.08 113.09L268.95 119.13L270.75 125.01L272.49 130.73L274.18 136.29L275.81 141.72L277.39 147.01L278.93 152.18L280.43 157.23L281.88 162.17L283.29 167L284.67 171.74L286.02 176.37L287.33 180.92L288.61 185.38L289.86 189.75L291.08 194.05L292.28 198.27L293.45 202.41L294.59 206.49L295.71 210.5L296.81 214.44L297.89 218.33L298.95 222.15L299.99 225.91L301.01 229.62L302.01 233.28L302.99 236.88L303.96 240.43L304.91 243.94L305.85 247.39L306.77 250.81L307.67 254.17L308.56 257.5L309.44 260.78L310.3 264.03L311.16 267.23L311.99 270.4L312.82 273.53L313.64 276.62L314.44 279.68L315.23 282.71L316.01 285.7L316.79 288.66L317.55 291.58L318.3 294.48L319.04 297.35L319.77 300.19L320.5 303L321.21 305.78L321.92 308.54L322.62 311.26L323.31 313.97L323.99 316.64L324.67 319.3L325.33 321.93L325.99 324.53L326.64 327.11L327.29 329.67L327.93 332.21L328.56 334.72L329.18 337.22L329.8 339.69L330.42 342.14L331.02 344.57L331.62 346.99L332.22 349.38L332.8 351.75L333.39 354.11L333.96 356.45L334.54 358.77L335.1 361.07L335.66 363.35L336.22 365.62L336.77 367.87L337.32 370.11L337.86 372.33L338.4 374.53L338.93 376.72L339.46 378.89L339.98 381.04L340.5 383.19L341.01 385.31L341.52 387.43L342.03 389.53L342.53 391.61L343.03 393.69L343.52 395.74L344.01 397.79L344.5 399.82L344.98 401.84L345.46 403.85L345.93 405.84L346.4 407.82L346.87 409.79L347.34 411.75L347.8 413.7L348.26 415.63L348.71 417.56L349.16 419.47L349.61 421.37L350.05 423.26L350.5 425.14L350.93 427.01L351.37 428.87L351.8 430.72L352.23 432.55L352.66 434.38L353.08 436.2M270.64 30.2L274.07 39.47L277.29 48.28L280.33 56.68L283.2 64.7L285.93 72.4L288.52 79.8L291 86.92L293.37 93.79L295.64 100.43L297.82 106.86L299.92 113.09L301.95 119.13L303.9 125.01L305.79 130.73L307.61 136.29L309.38 141.72L311.1 147.01L312.77 152.18L314.39 157.23L315.96 162.17L317.5 167L318.99 171.74L320.45 176.37L321.87 180.92L323.26 185.38L324.62 189.75L325.95 194.05L327.25 198.27L328.52 202.41L329.76 206.49L330.98 210.5L332.18 214.44L333.35 218.33L334.5 222.15L335.63 225.91L336.74 229.62L337.82 233.28L338.89 236.88L339.94 240.43L340.98 243.94L341.99 247.39L342.99 250.81L343.98 254.17L344.95 257.5L345.9 260.78L346.84 264.03L347.77 267.23L348.68 270.4L349.58 273.53L350.47 276.62L351.34 279.68L352.2 282.71L353.06 285.7L353.9 288.66L354.73 291.58L355.54 294.48L356.35 297.35L357.15 300.19L357.94 303L358.72 305.78L359.49 308.54L360.25 311.26L361 313.97L361.74 316.64L362.48 319.3L363.2 321.93L363.92 324.53L364.63 327.11L365.34 329.67L366.03 332.21L366.72 334.72L367.4 337.22L368.08 339.69L368.74 342.14L369.4 344.57L370.06 346.99L370.71 349.38L371.35 351.75L371.98 354.11L372.61 356.45L373.24 358.77L373.85 361.07L374.47 363.35L375.07 365.62L375.67 367.87L376.27 370.11L376.86 372.33L377.45 374.53L378.03 376.72L378.6 378.89L379.17 381.04L379.74 383.19L380.3 385.31L380.86 387.43L381.41 389.53L381.96 391.61L382.5 393.69L383.04 395.74L383.57 397.79L384.1 399.82L384.63 401.84L385.15 403.85L385.67 405.84L386.19 407.82L386.7 409.79L387.21 411.75L387.71 413.7L388.21 415.63L388.71 417.56L389.2 419.47L389.69 421.37L390.17 423.26L390.66 425.14L391.14 427.01L391.61 428.87L392.08 430.72L392.55 432.55L393.02 434.38L393.48 436.2M289.7 30.2L293.3 39.47L296.67 48.28L299.86 56.68L302.87 64.7L305.73 72.4L308.45 79.8L311.05 86.92L313.53 93.79L315.91 100.43L318.2 106.86L320.4 113.09L322.53 119.13L324.58 125.01L326.56 130.73L328.48 136.29L330.34 141.72L332.14 147.01L333.89 152.18L335.59 157.23L337.25 162.17L338.86 167L340.43 171.74L341.96 176.37L343.46 180.92L344.92 185.38L346.34 189.75L347.74 194.05L349.1 198.27L350.44 202.41L351.75 206.49L353.03 210.5L354.29 214.44L355.52 218.33L356.73 222.15L357.91 225.91L359.08 229.62L360.22 233.28L361.35 236.88L362.45 240.43L363.54 243.94L364.61 247.39L365.66 250.81L366.7 254.17L367.72 257.5L368.72 260.78L369.71 264.03L370.69 267.23L371.65 270.4L372.59 273.53L373.53 276.62L374.45 279.68L375.35 282.71L376.25 285.7L377.14 288.66L378.01 291.58L378.87 294.48L379.72 297.35L380.56 300.19L381.39 303L382.21 305.78L383.02 308.54L383.82 311.26L384.61 313.97L385.4 316.64L386.17 319.3L386.94 321.93L387.69 324.53L388.44 327.11L389.18 329.67L389.92 332.21L390.64 334.72L391.36 337.22L392.07 339.69L392.77 342.14L393.47 344.57L394.16 346.99L394.84 349.38L395.52 351.75L396.19 354.11L396.85 356.45L397.51 358.77L398.16 361.07L398.8 363.35L399.44 365.62L400.08 367.87L400.7 370.11L401.33 372.33L401.94 374.53L402.56 376.72L403.16 378.89L403.76 381.04L404.36 383.19L404.95 385.31L405.54 387.43L406.12 389.53L406.7 391.61L407.27 393.69L407.84 395.74L408.4 397.79L408.96 399.82L409.52 401.84L410.07 403.85L410.62 405.84L411.16 407.82L411.7 409.79L412.24 411.75L412.77 413.7L413.29 415.63L413.82 417.56L414.34 419.47L414.85 421.37L415.37 423.26L415.87 425.14L416.38 427.01L416.88 428.87L417.38 430.72L417.88 432.55L418.37 434.38L418.86 436.2M303.77 30.2L307.5 39.47L310.99 48.28L314.28 56.68L317.4 64.7L320.36 72.4L323.17 79.8L325.86 86.92L328.44 93.79L330.9 100.43L333.27 106.86L335.55 113.09L337.75 119.13L339.88 125.01L341.93 130.73L343.92 136.29L345.84 141.72L347.71 147.01L349.52 152.18L351.29 157.23L353 162.17L354.67 167L356.3 171.74L357.89 176.37L359.44 180.92L360.95 185.38L362.43 189.75L363.88 194.05L365.29 198.27L366.68 202.41L368.03 206.49L369.36 210.5L370.66 214.44L371.94 218.33L373.2 222.15L374.43 225.91L375.64 229.62L376.82 233.28L377.99 236.88L379.14 240.43L380.26 243.94L381.37 247.39L382.46 250.81L383.54 254.17L384.6 257.5L385.64 260.78L386.67 264.03L387.68 267.23L388.67 270.4L389.66 273.53L390.62 276.62L391.58 279.68L392.52 282.71L393.45 285.7L394.37 288.66L395.28 291.58L396.17 294.48L397.05 297.35L397.93 300.19L398.79 303L399.64 305.78L400.48 308.54L401.31 311.26L402.14 313.97L402.95 316.64L403.75 319.3L404.55 321.93L405.33 324.53L406.11 327.11L406.88 329.67L407.64 332.21L408.39 334.72L409.14 337.22L409.88 339.69L410.61 342.14L411.33 344.57L412.05 346.99L412.75 349.38L413.46 351.75L414.15 354.11L414.84 356.45L415.52 358.77L416.2 361.07L416.87 363.35L417.54 365.62L418.19 367.87L418.85 370.11L419.49 372.33L420.13 374.53L420.77 376.72L421.4 378.89L422.03 381.04L422.65 383.19L423.26 385.31L423.87 387.43L424.48 389.53L425.08 391.61L425.67 393.69L426.26 395.74L426.85 397.79L427.43 399.82L428.01 401.84L428.58 403.85L429.15 405.84L429.71 407.82L430.27 409.79L430.83 411.75L431.38 413.7L431.93 415.63L432.47 417.56L433.01 419.47L433.55 421.37L434.08 423.26L434.61 425.14L435.14 427.01L435.66 428.87L436.18 430.72L436.69 432.55L437.21 434.38L437.71 436.2M315.03 30.2L318.85 39.47L322.44 48.28L325.82 56.68L329.02 64.7L332.06 72.4L334.96 79.8L337.72 86.92L340.36 93.79L342.9 100.43L345.33 106.86L347.68 113.09L349.94 119.13L352.12 125.01L354.23 130.73L356.27 136.29L358.25 141.72L360.17 147.01L362.04 152.18L363.85 157.23L365.62 162.17L367.34 167L369.01 171.74L370.64 176.37L372.24 180.92L373.79 185.38L375.32 189.75L376.8 194.05L378.26 198.27L379.68 202.41L381.08 206.49L382.45 210.5L383.79 214.44L385.1 218.33L386.39 222.15L387.66 225.91L388.9 229.62L390.13 233.28L391.33 236.88L392.51 240.43L393.67 243.94L394.81 247.39L395.93 250.81L397.04 254.17L398.13 257.5L399.2 260.78L400.26 264.03L401.3 267.23L402.33 270.4L403.34 273.53L404.34 276.62L405.32 279.68L406.29 282.71L407.25 285.7L408.19 288.66L409.13 291.58L410.05 294.48L410.96 297.35L411.86 300.19L412.74 303L413.62 305.78L414.49 308.54L415.34 311.26L416.19 313.97L417.03 316.64L417.85 319.3L418.67 321.93L419.48 324.53L420.28 327.11L421.08 329.67L421.86 332.21L422.64 334.72L423.4 337.22L424.16 339.69L424.92 342.14L425.66 344.57L426.4 346.99L427.13 349.38L427.85 351.75L428.57 354.11L429.28 356.45L429.99 358.77L430.68 361.07L431.37 363.35L432.06 365.62L432.74 367.87L433.41 370.11L434.08 372.33L434.74 374.53L435.39 376.72L436.04 378.89L436.69 381.04L437.33 383.19L437.96 385.31L438.59 387.43L439.21 389.53L439.83 391.61L440.44 393.69L441.05 395.74L441.66 397.79L442.26 399.82L442.85 401.84L443.44 403.85L444.03 405.84L444.61 407.82L445.19 409.79L445.76 411.75L446.33 413.7L446.9 415.63L447.46 417.56L448.01 419.47L448.57 421.37L449.12 423.26L449.66 425.14L450.2 427.01L450.74 428.87L451.28 430.72L451.81 432.55L452.34 434.38L452.86 436.2M324.45 30.2L328.35 39.47L332.02 48.28L335.48 56.68L338.75 64.7L341.86 72.4L344.82 79.8L347.65 86.92L350.35 93.79L352.95 100.43L355.44 106.86L357.84 113.09L360.15 119.13L362.38 125.01L364.54 130.73L366.63 136.29L368.66 141.72L370.62 147.01L372.53 152.18L374.39 157.23L376.19 162.17L377.95 167L379.67 171.74L381.34 176.37L382.97 180.92L384.56 185.38L386.12 189.75L387.64 194.05L389.13 198.27L390.59 202.41L392.02 206.49L393.42 210.5L394.8 214.44L396.14 218.33L397.46 222.15L398.76 225.91L400.03 229.62L401.29 233.28L402.52 236.88L403.73 240.43L404.91 243.94L406.08 247.39L407.24 250.81L408.37 254.17L409.48 257.5L410.58 260.78L411.66 264.03L412.73 267.23L413.78 270.4L414.82 273.53L415.84 276.62L416.85 279.68L417.84 282.71L418.83 285.7L419.79 288.66L420.75 291.58L421.69 294.48L422.63 297.35L423.55 300.19L424.46 303L425.36 305.78L426.24 308.54L427.12 311.26L427.99 313.97L428.85 316.64L429.7 319.3L430.53 321.93L431.36 324.53L432.19 327.11L433 329.67L433.8 332.21L434.6 334.72L435.38 337.22L436.16 339.69L436.93 342.14L437.7 344.57L438.45 346.99L439.2 349.38L439.95 351.75L440.68 354.11L441.41 356.45L442.13 358.77L442.84 361.07L443.55 363.35L444.25 365.62L444.95 367.87L445.64 370.11L446.32 372.33L447 374.53L447.67 376.72L448.34 378.89L449 381.04L449.66 383.19L450.31 385.31L450.95 387.43L451.59 389.53L452.22 391.61L452.85 393.69L453.48 395.74L454.1 397.79L454.71 399.82L455.32 401.84L455.93 403.85L456.53 405.84L457.13 407.82L457.72 409.79L458.31 411.75L458.89 413.7L459.47 415.63L460.05 417.56L460.62 419.47L461.19 421.37L461.75 423.26L462.31 425.14L462.86 427.01L463.42 428.87L463.97 430.72L464.51 432.55L465.05 434.38L465.59 436.2" stroke="#0000ff" stroke-width="1.3" stroke-dasharray="1.3 4" fill="none"/></g>
<rect x="67.2" y="30.2" width="441" height="406" fill="none" stroke="#000" stroke-width="1.7"/><path d="M101.12 436.2v-4.5M101.12 30.2v4.5M135.05 436.2v-4.5M135.05 30.2v4.5M168.97 436.2v-4.5M168.97 30.2v4.5M202.89 436.2v-4.5M202.89 30.2v4.5M236.82 436.2v-4.5M236.82 30.2v4.5M270.74 436.2v-4.5M270.74 30.2v4.5M304.66 436.2v-4.5M304.66 30.2v4.5M338.58 436.2v-4.5M338.58 30.2v4.5M372.51 436.2v-4.5M372.51 30.2v4.5M406.43 436.2v-4.5M406.43 30.2v4.5M440.35 436.2v-4.5M440.35 30.2v4.5M474.28 436.2v-4.5M474.28 30.2v4.5M67.2 30.2h4.5M508.2 30.2h-4.5M67.2 124.63h4.5M508.2 124.63h-4.5M67.2 189.19h4.5M508.2 189.19h-4.5M67.2 239.74h4.5M508.2 239.74h-4.5M67.2 281.92h4.5M508.2 281.92h-4.5M67.2 318.43h4.5M508.2 318.43h-4.5M67.2 350.83h4.5M508.2 350.83h-4.5M67.2 380.06h4.5M508.2 380.06h-4.5M67.2 406.79h4.5M508.2 406.79h-4.5M67.2 431.48h4.5M508.2 431.48h-4.5" stroke="#000" stroke-width="1" fill="none"/>
<text x="64.65" y="35.7" text-anchor="end" fill="#000" stroke="#000" font-size="15" letter-spacing="0.85">100</text><text x="64.65" y="130.13" text-anchor="end" fill="#000" stroke="#000" font-size="15" letter-spacing="0.85">200</text><text x="64.65" y="194.69" text-anchor="end" fill="#000" stroke="#000" font-size="15" letter-spacing="0.85">300</text><text x="64.65" y="245.24" text-anchor="end" fill="#000" stroke="#000" font-size="15" letter-spacing="0.85">400</text><text x="64.65" y="287.42" text-anchor="end" fill="#000" stroke="#000" font-size="15" letter-spacing="0.85">500</text><text x="64.65" y="323.93" text-anchor="end" fill="#000" stroke="#000" font-size="15" letter-spacing="0.85">600</text><text x="64.65" y="356.33" text-anchor="end" fill="#000" stroke="#000" font-size="15" letter-spacing="0.85">700</text><text x="64.65" y="385.56" text-anchor="end" fill="#000" stroke="#000" font-size="15" letter-spacing="0.85">800</text><text x="64.65" y="412.29" text-anchor="end" fill="#000" stroke="#000" font-size="15" letter-spacing="0.85">900</text><text x="64.65" y="436.98" text-anchor="end" fill="#000" stroke="#000" font-size="15" letter-spacing="0.85">1000</text><text x="63.62" y="453" text-anchor="middle" fill="#000" stroke="#000" font-size="15" letter-spacing="0.85">−80</text><text x="97.54" y="453" text-anchor="middle" fill="#000" stroke="#000" font-size="15" letter-spacing="0.85">−70</text><text x="131.47" y="453" text-anchor="middle" fill="#000" stroke="#000" font-size="15" letter-spacing="0.85">−60</text><text x="165.39" y="453" text-anchor="middle" fill="#000" stroke="#000" font-size="15" letter-spacing="0.85">−50</text><text x="199.31" y="453" text-anchor="middle" fill="#000" stroke="#000" font-size="15" letter-spacing="0.85">−40</text><text x="233.24" y="453" text-anchor="middle" fill="#000" stroke="#000" font-size="15" letter-spacing="0.85">−30</text><text x="267.16" y="453" text-anchor="middle" fill="#000" stroke="#000" font-size="15" letter-spacing="0.85">−20</text><text x="301.08" y="453" text-anchor="middle" fill="#000" stroke="#000" font-size="15" letter-spacing="0.85">−10</text><text x="339" y="453" text-anchor="middle" fill="#000" stroke="#000" font-size="15" letter-spacing="0.85">0</text><text x="372.93" y="453" text-anchor="middle" fill="#000" stroke="#000" font-size="15" letter-spacing="0.85">10</text><text x="406.85" y="453" text-anchor="middle" fill="#000" stroke="#000" font-size="15" letter-spacing="0.85">20</text><text x="440.77" y="453" text-anchor="middle" fill="#000" stroke="#000" font-size="15" letter-spacing="0.85">30</text><text x="474.7" y="453" text-anchor="middle" fill="#000" stroke="#000" font-size="15" letter-spacing="0.85">40</text><text x="73.8" y="35.2" text-anchor="start" fill="#000" stroke="#000" font-size="15" letter-spacing="0.85">16190 m</text><text x="73.8" y="88.16" text-anchor="start" fill="#000" stroke="#000" font-size="15" letter-spacing="0.85">13570 m</text><text x="73.8" y="129.63" text-anchor="start" fill="#000" stroke="#000" font-size="15" letter-spacing="0.85">11720 m</text><text x="73.8" y="164.23" text-anchor="start" fill="#000" stroke="#000" font-size="15" letter-spacing="0.85">10300 m</text><text x="73.8" y="194.19" text-anchor="start" fill="#000" stroke="#000" font-size="15" letter-spacing="0.85">9110 m</text><text x="73.8" y="220.76" text-anchor="start" fill="#000" stroke="#000" font-size="15" letter-spacing="0.85">8085 m</text><text x="73.8" y="244.74" text-anchor="start" fill="#000" stroke="#000" font-size="15" letter-spacing="0.85">7170 m</text><text x="73.8" y="286.92" text-anchor="start" fill="#000" stroke="#000" font-size="15" letter-spacing="0.85">5570 m</text><text x="73.8" y="323.43" text-anchor="start" fill="#000" stroke="#000" font-size="15" letter-spacing="0.85">4213 m</text><text x="73.8" y="355.83" text-anchor="start" fill="#000" stroke="#000" font-size="15" letter-spacing="0.85">3033 m</text><text x="73.8" y="385.06" text-anchor="start" fill="#000" stroke="#000" font-size="15" letter-spacing="0.85">1983 m</text><text x="73.8" y="411.79" text-anchor="start" fill="#000" stroke="#000" font-size="15" letter-spacing="0.85">1031 m</text><text x="73.8" y="436.48" text-anchor="start" fill="#000" stroke="#000" font-size="15" letter-spacing="0.85">150 m</text><text x="97.3" y="19.8" text-anchor="start" fill="#0000ff" stroke="#0000ff" font-size="15" letter-spacing="0.85">0.1</text><text x="118.1" y="19.8" text-anchor="start" fill="#0000ff" stroke="#0000ff" font-size="15" letter-spacing="0.85">0.2</text><text x="148.3" y="19.8" text-anchor="start" fill="#0000ff" stroke="#0000ff" font-size="15" letter-spacing="0.85">0.5</text><text x="173.9" y="19.8" text-anchor="start" fill="#0000ff" stroke="#0000ff" font-size="15" letter-spacing="0.85">1</text><text x="199.4" y="19.8" text-anchor="start" fill="#0000ff" stroke="#0000ff" font-size="15" letter-spacing="0.85">2</text><text x="215.4" y="19.8" text-anchor="start" fill="#0000ff" stroke="#0000ff" font-size="15" letter-spacing="0.85">3</text><text x="237.9" y="19.8" text-anchor="start" fill="#0000ff" stroke="#0000ff" font-size="15" letter-spacing="0.85">5</text><text x="268.3" y="19.8" text-anchor="start" fill="#0000ff" stroke="#0000ff" font-size="15" letter-spacing="0.85">10</text><text x="299.3" y="19.8" text-anchor="start" fill="#0000ff" stroke="#0000ff" font-size="15" letter-spacing="0.85">20</text><text x="319.5" y="19.8" text-anchor="start" fill="#0000ff" stroke="#0000ff" font-size="15" letter-spacing="0.85">30</text><text x="346.8" y="19.8" text-anchor="start" fill="#0000ff" stroke="#0000ff" font-size="15" letter-spacing="0.85">[g/kg]</text><text x="406" y="19.8" text-anchor="start" fill="#000" stroke="#000" font-size="15" letter-spacing="0.66">Poprad−Ganovce 12Z 10 May 20</text><text x="481" y="136.8" text-anchor="start" fill="#000" stroke="#000" font-size="15" letter-spacing="0.68">PW=1.30 g/cm<tspan font-size="11.5" dy="-7.1">2</tspan></text><text x="288.2" y="473.6" text-anchor="middle" fill="#000" stroke="#000" font-size="15" letter-spacing="0.62">temperature [<tspan font-size="11.5" dy="-7.7">o</tspan><tspan dy="7.7">C]</tspan></text><text transform="translate(18,232.8) rotate(-90)" text-anchor="middle" stroke="#000" font-size="15" letter-spacing="0">pressure [hPa]</text>
<rect x="379" y="35.5" width="123.5" height="59.3" fill="#fff" stroke="#000" stroke-width="1"/><path d="M386 46.3H422.7" stroke="#000" stroke-width="2.4"/><path d="M386 64.8H422.7" stroke="#f00" stroke-width="2.4"/><path d="M386 83.3H422.7" stroke="#00f" stroke-width="2.4"/><text x="427" y="51.5" stroke="#000" font-size="15" letter-spacing="0.55">temp.</text><text x="427" y="70" stroke="#000" font-size="15" letter-spacing="0.55">dew point</text><text x="427" y="88.5" stroke="#000" font-size="15" letter-spacing="0.55">pot. temp.</text>
</svg>
</body></html>
